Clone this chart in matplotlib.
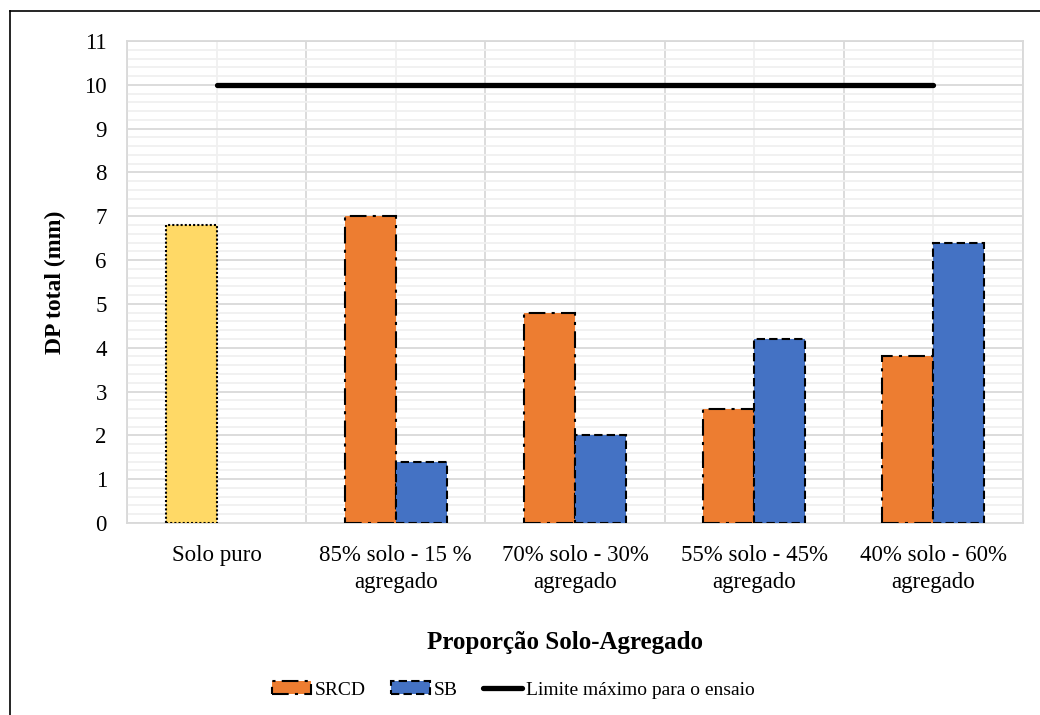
import matplotlib
matplotlib.use("Agg")
import matplotlib.pyplot as plt
import numpy as np
from matplotlib.patches import Patch
from matplotlib.lines import Line2D
from matplotlib.ticker import MultipleLocator

categories = ["Solo puro", "85% solo - 15 %\nagregado", "70% solo - 30%\nagregado",
              "55% solo - 45%\nagregado", "40% solo - 60%\nagregado"]
solo_puro = [6.8]
srcd = [7.0, 4.8, 2.6, 3.8]
sb = [1.4, 2.0, 4.2, 6.4]
limite = [10, 10, 10, 10, 10]

plt.rcParams["font.family"] = ["Liberation Serif", "DejaVu Serif"]

fig = plt.figure(figsize=(10.4, 7.15), dpi=100)
ax = fig.add_axes([127 / 1040, 1 - 523 / 715, (1023 - 127) / 1040, (523 - 41) / 715])

x = np.arange(len(categories))
w = 0.285
orange = "#ED7D31"
blue = "#4472C4"
yellow = "#FFD966"

# Pure soil bar (first category)
ax.bar(x[:1] - w / 2, solo_puro, w, color=yellow, edgecolor="black",
       linestyle=(0, (1, 1)), linewidth=1.5, zorder=3)
# Mixed soil bars
ax.bar(x[1:] - w / 2, srcd, w, color=orange, edgecolor="black",
       linestyle=(0, (8, 3, 1.5, 3)), linewidth=1.5, zorder=3)
ax.bar(x[1:] + w / 2, sb, w, color=blue, edgecolor="black",
       linestyle=(0, (4, 2)), linewidth=1.5, zorder=3)
ax.plot(x, limite, color="black", linewidth=3.8, solid_capstyle="round", zorder=4)

ax.set_xlim(-0.5, len(categories) - 0.5)
ax.set_ylim(0, 11)
ax.yaxis.set_major_locator(MultipleLocator(1))
ax.yaxis.set_minor_locator(MultipleLocator(0.2))
ax.set_xticks(x)
ax.set_xticks(np.arange(len(categories) + 1) - 0.5, minor=True)
ax.set_xticklabels(categories, fontsize=16.5, linespacing=1.36)
ax.tick_params(axis="both", which="both", length=0)
ax.tick_params(axis="y", labelsize=16.5, pad=14.5)
ax.tick_params(axis="x", pad=16)

# Grid: major horizontal at integers, minor at 0.2; vertical at boundaries and centres
ax.grid(True, axis="y", which="major", color="#d9d9d9", linewidth=1.3, zorder=0)
ax.grid(True, axis="y", which="minor", color="#f0f0f0", linewidth=1.3, zorder=0)
ax.grid(True, axis="x", which="minor", color="#d9d9d9", linewidth=1.3, zorder=0)
ax.grid(True, axis="x", which="major", color="#f0f0f0", linewidth=1.3, zorder=0)
ax.set_axisbelow(True)
for s in ax.spines.values():
    s.set_color("#d9d9d9")
    s.set_linewidth(1.3)

fig.text(55 / 1040, 1 - 282 / 715, "DP total (mm)", rotation=90, ha="center", va="center",
         fontsize=17, fontweight="bold")
fig.text(565 / 1040, 1 - 643 / 715, "Proporção Solo-Agregado", ha="center", va="center",
         fontsize=18, fontweight="bold")

handles = [
    Patch(facecolor=orange, edgecolor="black", linestyle=(0, (8, 3, 1.5, 3)), linewidth=1.5),
    Patch(facecolor=blue, edgecolor="black", linestyle=(0, (4, 2)), linewidth=1.5),
    Line2D([0], [0], color="black", linewidth=3.8, solid_capstyle="round"),
]
fig.legend(handles, ["SRCD", "SB", "Limite máximo para o ensaio"], loc="center",
           bbox_to_anchor=(513 / 1040, 1 - 690 / 715), ncol=3, frameon=False,
           fontsize=14, handlelength=2.0, handleheight=0.6, handletextpad=0.2,
           columnspacing=1.3)

# Outer chart frame (left and top edges)
fig.add_artist(Line2D([10 / 1040, 10 / 1040], [0, 1 - 11 / 715], color="black",
                      linewidth=1.2, transform=fig.transFigure))
fig.add_artist(Line2D([10 / 1040, 1], [1 - 11 / 715, 1 - 11 / 715], color="black",
                      linewidth=1.2, transform=fig.transFigure))

fig.savefig("out.png", dpi=100)
